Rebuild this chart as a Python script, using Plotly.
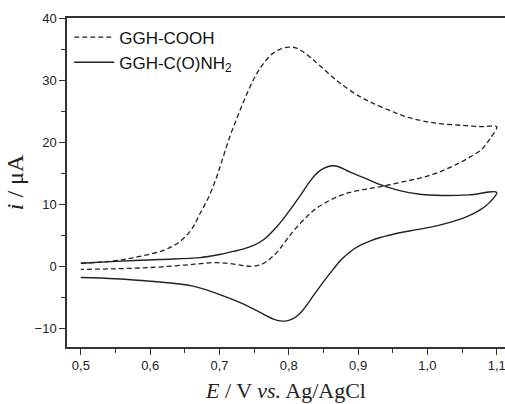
import plotly.graph_objects as go

# GGH-COOH (dashed): forward then reverse scan
cooh_E = [0.50, 0.55, 0.585, 0.62, 0.643, 0.66, 0.672, 0.685, 0.696, 0.705, 0.715, 0.725, 0.734,
          0.744, 0.754, 0.765, 0.777, 0.788, 0.80, 0.81, 0.82, 0.832, 0.845, 0.86, 0.874, 0.90,
          0.921, 0.95, 0.975, 1.01, 1.05, 1.08, 1.10,
          1.09, 1.078, 1.063, 1.047, 1.028, 1.008, 0.985, 0.96, 0.931, 0.91, 0.888, 0.868,
          0.849, 0.837, 0.826, 0.81, 0.797, 0.787, 0.777, 0.767, 0.758, 0.745, 0.73, 0.71,
          0.69, 0.67, 0.65, 0.60, 0.55, 0.50]
cooh_i = [0.5, 0.9, 1.6, 2.6, 4.0, 6.0, 8.5, 11.3, 14.4, 17.5, 20.9, 23.8, 26.3,
          28.9, 31.1, 32.9, 34.3, 35.0, 35.3, 35.2, 34.6, 33.6, 32.3, 30.8, 29.5, 27.5,
          26.3, 24.9, 23.9, 23.1, 22.7, 22.5, 22.5,
          20.5, 18.8, 17.7, 16.7, 15.7, 14.8, 14.1, 13.5, 12.8, 12.4, 11.9, 11.1,
          10.0, 9.1, 8.0, 6.1, 4.3, 2.8, 1.6, 0.7, 0.2, 0.0, 0.2, 0.5,
          0.6, 0.4, 0.2, -0.2, -0.4, -0.5]

# GGH-C(O)NH2 (solid): forward then reverse scan
amide_E = [0.50, 0.55, 0.614, 0.672, 0.70, 0.72, 0.735, 0.75, 0.765, 0.783, 0.80, 0.816, 0.83,
           0.838, 0.846, 0.855, 0.864, 0.873, 0.888, 0.91, 0.931, 0.96, 0.989, 1.022, 1.06, 1.10,
           1.09, 1.075, 1.057, 1.03, 1.008, 0.985, 0.96, 0.945, 0.931, 0.918, 0.905, 0.893, 0.877,
           0.864, 0.85, 0.835, 0.825, 0.816, 0.807, 0.797, 0.788, 0.778, 0.758, 0.735, 0.711,
           0.662, 0.60, 0.55, 0.50]
amide_i = [0.5, 0.8, 1.1, 1.4, 1.9, 2.4, 2.8, 3.4, 4.4, 6.4, 8.8, 11.3, 13.6,
           14.7, 15.5, 16.0, 16.2, 16.0, 15.2, 14.2, 13.2, 12.2, 11.6, 11.4, 11.5, 11.9,
           10.3, 9.0, 8.0, 7.0, 6.4, 5.9, 5.4, 5.0, 4.6, 4.1, 3.5, 2.7, 1.2,
           -0.5, -2.5, -4.8, -6.4, -7.6, -8.4, -8.8, -8.8, -8.5, -7.4, -6.1, -5.0,
           -3.2, -2.4, -2.0, -1.8]

x_ticks = [0.5, 0.6, 0.7, 0.8, 0.9, 1.0, 1.1]
x_labels = ["0,5", "0,6", "0,7", "0,8", "0,9", "1,0", "1,1"]
y_ticks = [-10, 0, 10, 20, 30, 40]

LC = "#222222"
AX = "#333333"
XR = [0.48, 1.112]
YR = [-13, 40]

fig = go.Figure()
fig.add_trace(go.Scatter(x=cooh_E, y=cooh_i, mode="lines", name="GGH-COOH",
                         line=dict(color=LC, width=1.3, dash="5px,3px", shape="spline", smoothing=1.0)))
fig.add_trace(go.Scatter(x=amide_E, y=amide_i, mode="lines", name="GGH-C(O)NH<sub>2</sub>",
                         line=dict(color=LC, width=1.4, shape="spline", smoothing=1.0)))

fig.update_layout(
    width=505, height=404,
    margin=dict(l=67, r=0, t=18, b=57),
    paper_bgcolor="white", plot_bgcolor="white",
    font=dict(family="Liberation Sans, Arial, sans-serif", size=13, color="#222"),
    showlegend=True,
    legend=dict(x=0.005, y=0.995, xanchor="left", yanchor="top", bgcolor="rgba(0,0,0,0)",
                font=dict(size=17, color="#111"), itemwidth=40, tracegroupgap=0),
    xaxis=dict(range=XR, tickvals=x_ticks, ticktext=x_labels,
               showgrid=False, zeroline=False, showline=True, linecolor=AX, linewidth=1.5,
               mirror=True,
               ticks="outside", ticklen=6, tickwidth=1.2, tickcolor=AX,
               ticklabeloverflow="allow",
               minor=dict(dtick=0.05, ticks="outside", ticklen=4, tickwidth=1.2, tickcolor=AX, tick0=0.5),
               tickfont=dict(size=13),
               title=dict(text="<i>E</i> / V <i>vs.</i> Ag/AgCl",
                          font=dict(family="Liberation Serif, Times New Roman, serif", size=22),
                          standoff=10)),
    yaxis=dict(range=YR, tickvals=y_ticks,
               showgrid=False, zeroline=False, showline=True, linecolor=AX, linewidth=1.5,
               ticks="outside", ticklen=6, tickwidth=1.2, tickcolor=AX,
               minor=dict(dtick=5, ticks="outside", ticklen=4, tickwidth=1.2, tickcolor=AX, tick0=0),
               tickfont=dict(size=13),
               title=dict(text="<i>i</i> / μA",
                          font=dict(family="Liberation Serif, Times New Roman, serif", size=24),
                          standoff=4)),
)

fig.write_html("out.html")
